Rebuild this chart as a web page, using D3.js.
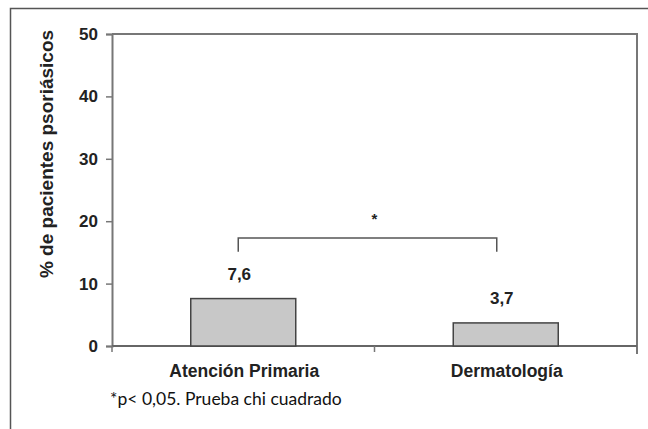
<!DOCTYPE html>
<html><head><meta charset="utf-8">
<script src="https://cdn.jsdelivr.net/npm/d3@7"></script>
<style>body{margin:0;background:#fff}svg{display:block}</style>
</head><body>
<svg id="c" width="648" height="429"></svg>
<script>
const categories = ["Atención Primaria", "Dermatología"];
const values = [7.6, 3.7];
const valueLabels = ["7,6", "3,7"];
const yTicks = [0, 10, 20, 30, 40, 50];
const bracketLevel = [17.3, 15.1];
const footnote = "*p< 0,05. Prueba chi cuadrado";
const yTitle = "% de pacientes psoriásicos";

const FONT = "'Liberation Sans', Arial, sans-serif";
const svg = d3.select("#c");
const m = {l: 112, r: 637, t: 34, b: 346};
const x = d3.scaleBand().domain(categories).range([m.l, m.r]).paddingInner(0).paddingOuter(0);
const y = d3.scaleLinear().domain([0, 50]).range([m.b, m.t]);

// outer frame
svg.append("path").attr("d", `M10.5,429V8.5H648`).attr("fill", "none").attr("stroke", "#555").attr("stroke-width", 1.5);

// plot border top/right
svg.append("path").attr("d", `M${m.l},${m.t}H${m.r}V${m.b + 8}`).attr("fill", "none").attr("stroke", "#777").attr("stroke-width", 2);

// y axis
const ya = svg.append("g").attr("transform", `translate(${m.l},0)`)
  .call(d3.axisLeft(y).tickValues(yTicks).tickSize(6).tickPadding(8).tickFormat(d3.format("d")));
ya.select(".domain").attr("stroke", "#777").attr("stroke-width", 2);
ya.selectAll(".tick line").attr("stroke", "#777").attr("stroke-width", 1.5);
ya.selectAll("text").attr("font-family", FONT).attr("font-weight", "bold").attr("font-size", 17).attr("fill", "#222");

// x axis
svg.append("line").attr("x1", m.l).attr("x2", m.r).attr("y1", m.b).attr("y2", m.b).attr("stroke", "#666").attr("stroke-width", 2);
const bounds = [m.l, ...categories.map(c => x(c) + x.bandwidth())];
svg.selectAll(".xt").data(bounds.slice(0, 2)).join("line")
  .attr("x1", d => d).attr("x2", d => d).attr("y1", m.b).attr("y2", m.b + 6)
  .attr("stroke", "#777").attr("stroke-width", 1.5);

// bars
const bw = x.bandwidth() * 0.4;
svg.selectAll(".bar").data(values).join("rect")
  .attr("x", (d, i) => x(categories[i]) + (x.bandwidth() - bw) / 2)
  .attr("width", bw)
  .attr("y", d => y(d)).attr("height", d => y(0) - y(d))
  .attr("fill", "#c8c8c8").attr("stroke", "#444").attr("stroke-width", 1.5);

// value labels
svg.selectAll(".vl").data(values).join("text")
  .attr("x", (d, i) => x(categories[i]) + x.bandwidth() / 2 - 4)
  .attr("y", d => y(d) - 19)
  .attr("text-anchor", "middle")
  .attr("font-family", FONT).attr("font-weight", "bold").attr("font-size", 17).attr("fill", "#222")
  .text((d, i) => valueLabels[i]);

// category labels
svg.selectAll(".cl").data(categories).join("text")
  .attr("x", d => x(d) + x.bandwidth() / 2 + 1)
  .attr("y", m.b + 31)
  .attr("text-anchor", "middle")
  .attr("font-family", FONT).attr("font-weight", "bold").attr("font-size", 17.5).attr("fill", "#222")
  .text(d => d);

// bracket
const bx1 = x(categories[0]) + x.bandwidth() / 2 - 5;
const bx2 = x(categories[1]) + x.bandwidth() / 2 - 9;
svg.append("path")
  .attr("d", `M${bx1},${y(bracketLevel[1])}V${y(bracketLevel[0])}H${bx2}V${y(bracketLevel[1])}`)
  .attr("fill", "none").attr("stroke", "#555").attr("stroke-width", 1.5);
svg.append("text").attr("x", (bx1 + bx2) / 2 + 7).attr("y", y(bracketLevel[0]) - 14)
  .attr("text-anchor", "middle").attr("font-family", FONT).attr("font-weight", "bold").attr("font-size", 15).attr("fill", "#222").text("*");

// y title
svg.append("text").attr("transform", `translate(53,154) rotate(-90)`)
  .attr("text-anchor", "middle").attr("font-family", FONT).attr("font-weight", "bold").attr("font-size", 19).attr("fill", "#222")
  .text(yTitle);

// footnote
svg.append("text").attr("x", 110).attr("y", 405)
  .attr("font-family", "Lato, sans-serif").attr("font-size", 17.5).attr("fill", "#111").text(footnote);
</script>
</body></html>
